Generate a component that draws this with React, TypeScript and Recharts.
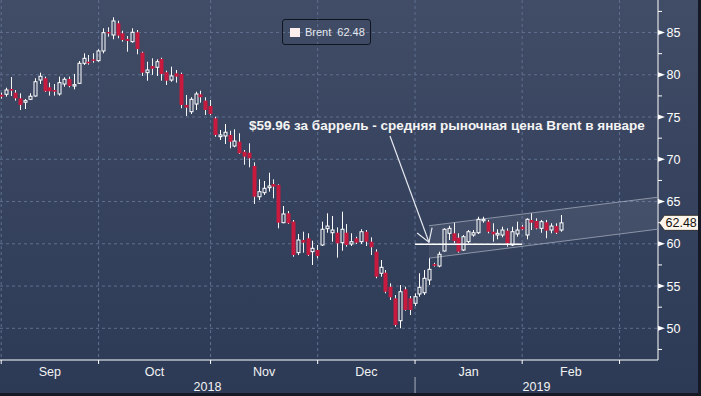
import {
  Bar,
  CartesianGrid,
  ComposedChart,
  Legend,
  ReferenceArea,
  ReferenceDot,
  ReferenceLine,
  XAxis,
  YAxis,
} from "recharts";

// daily Brent candles, Sep 2018 - Feb 2019
const opens = [
  77.64, 77.69, 78.32, 77.88, 77.22, 76.75, 77.1, 77.49, 79.38, 79.59, 78.52, 78.2, 77.73, 78.91, 79.5, 78.67, 78.99, 81.36, 81.55, 81.83,
  81.67, 82.82, 85.07, 84.71, 86.1, 84.91, 84.24, 83.92, 85.03, 82.62, 80.25, 81.04, 80.89, 81.87, 80.3, 79.38, 80.18, 80.09, 76.43, 75.63,
  76.54, 77.69, 76.94, 76.31, 74.85, 72.68, 72.76, 72.88, 71.57, 72.08, 70.9, 70.78, 69.21, 65.57, 66.05, 66.64, 67.08, 66.96, 62.5, 63.61,
  62.62, 58.95, 60.45, 60.65, 59.07, 59.27, 59.86, 61.79, 61.31, 61.31, 60.13, 61.31, 59.98, 60.65, 60.25, 61.43, 60.25, 59.07, 56.51, 56.58,
  54.92, 53.55, 50.9, 54.62, 53.55, 52.96, 54.06, 54.21, 55.72, 57.6, 57.37, 59.15, 61.24, 61.24, 60.72, 59.27, 60.25, 61.04, 61.31, 62.73,
  62.62, 61.43, 61.04, 61.04, 61.55, 59.86, 61.16, 62.02, 61.04, 62.82, 62.7, 61.83, 62.54, 61.63, 62.1, 61.63,
];
const highs = [
  77.88, 78.47, 79.74, 78.2, 77.81, 77.14, 77.81, 79.59, 80.25, 79.78, 79.07, 78.91, 79.78, 79.7, 79.78, 80.1, 81.63, 82.54, 82.34, 82.54,
  83.02, 85.5, 85.62, 86.8, 86.4, 85.22, 84.59, 85.5, 85.3, 82.73, 81.55, 81.95, 81.83, 82.02, 80.49, 80.96, 80.57, 80.25, 77.61, 77.34,
  78.0, 78.12, 77.34, 77.02, 75.04, 73.47, 74.18, 73.38, 73.55, 73.08, 71.1, 71.89, 69.64, 67.63, 67.43, 68.41, 67.63, 67.04, 64.47, 63.88,
  62.82, 61.16, 61.43, 61.24, 60.37, 59.86, 62.62, 63.61, 63.29, 61.95, 63.8, 62.34, 61.24, 60.84, 61.72, 61.63, 60.77, 59.35, 58.08, 56.9,
  55.33, 53.94, 55.12, 54.92, 53.82, 54.14, 56.51, 56.9, 58.28, 57.75, 59.07, 61.83, 62.14, 62.5, 61.24, 61.04, 61.63, 61.63, 63.2, 63.2,
  62.82, 62.43, 61.72, 62.02, 61.83, 62.02, 62.62, 62.23, 63.02, 63.61, 63.02, 62.82, 62.82, 62.43, 62.43, 63.41,
];
const lows = [
  77.17, 77.41, 77.49, 76.94, 75.83, 75.95, 77.02, 77.41, 78.91, 77.96, 77.53, 77.53, 77.53, 78.59, 78.52, 78.28, 78.91, 81.16, 81.2, 81.43,
  81.55, 82.54, 84.51, 84.2, 84.32, 83.92, 82.73, 83.8, 82.43, 79.86, 79.3, 79.98, 79.86, 79.3, 78.79, 79.18, 79.07, 76.04, 75.12, 75.36,
  75.83, 76.7, 75.24, 75.24, 72.67, 72.28, 71.81, 71.3, 71.42, 70.63, 69.35, 69.05, 64.71, 65.18, 65.78, 66.17, 65.38, 61.83, 62.43, 62.34,
  58.47, 58.67, 58.95, 58.56, 57.49, 58.28, 59.74, 61.31, 60.25, 58.36, 59.18, 59.66, 59.74, 59.98, 59.98, 59.74, 58.67, 55.92, 56.11, 54.14,
  53.35, 50.19, 50.0, 52.08, 51.57, 52.64, 53.74, 53.94, 55.12, 57.3, 57.22, 59.07, 60.45, 60.06, 58.95, 59.15, 60.06, 60.84, 61.16, 62.5,
  61.24, 60.25, 60.53, 60.77, 59.66, 59.74, 60.84, 61.63, 60.53, 61.63, 61.72, 61.31, 60.65, 61.24, 61.16, 61.43,
];
const closes = [
  77.41, 78.2, 78.12, 77.22, 76.43, 76.94, 77.46, 79.18, 79.82, 78.05, 78.05, 78.0, 79.07, 79.47, 78.67, 78.83, 81.36, 81.95, 81.36, 81.67,
  82.82, 84.98, 84.91, 86.37, 84.63, 84.12, 84.0, 85.03, 83.05, 80.25, 80.57, 80.72, 81.55, 80.09, 79.3, 79.86, 79.78, 76.43, 76.11, 77.1,
  77.73, 77.34, 75.83, 75.36, 72.88, 72.88, 73.2, 72.08, 72.16, 70.71, 70.31, 70.12, 65.57, 66.17, 66.57, 66.84, 66.76, 62.5, 63.53, 62.43,
  58.67, 60.45, 60.13, 58.67, 59.47, 58.56, 61.72, 62.1, 61.63, 60.06, 61.72, 59.86, 60.25, 60.13, 61.43, 60.25, 59.59, 56.11, 57.22, 54.33,
  53.67, 50.39, 54.33, 52.17, 52.17, 53.74, 54.85, 55.92, 56.98, 57.4, 58.76, 61.72, 61.83, 60.33, 59.07, 60.84, 61.43, 61.31, 62.9, 62.9,
  61.43, 61.12, 61.24, 61.63, 60.06, 61.43, 61.63, 61.72, 62.9, 62.5, 61.83, 62.62, 61.55, 62.1, 61.31, 62.48,
];

// candle index of the first session of each month (Sep ... Mar)
const monthStarts = [0, 20, 43, 65, 85, 107, 127];
const monthLabels = ["Sep", "Oct", "Nov", "Dec", "Jan", "Feb"];
const yearLabels = ["2018", "2019"];
const yearStart = 85;

const priceTicks = [50, 55, 60, 65, 70, 75, 80, 85];
const minorTicks = [47.5, 52.5, 57.5, 62.5, 67.5, 72.5, 77.5, 82.5, 87.5];

const X_DOMAIN: [number, number] = [-0.25, 134.9];
const Y_DOMAIN: [number, number] = [46.25, 88.85];

const januaryAverage = 59.96;
const januaryRange = [85, 107];
const lastPrice = closes[closes.length - 1];

// trend channel drawn on the chart
const channelX = [87.86, 134.7];
const channelUpper = [62.14, 65.5];
const channelLower = [58.3, 61.72];

// annotation arrow, from the text down to the average line
const arrowX = [79.85, 87.86];
const arrowY = [72.76, 60.18];
const noteAt = { x: 50.89, y: 73.47 };
const noteText = "$59.96 за баррель - средняя рыночная цена Brent в январе";

const candles = opens.map((open, i) => ({
  i,
  open,
  high: highs[i],
  low: lows[i],
  close: closes[i],
}));

const monthCenters = monthLabels.map((_, k) => (monthStarts[k] + monthStarts[k + 1]) / 2);
const yearCenters = [(X_DOMAIN[0] + yearStart) / 2, (yearStart + X_DOMAIN[1]) / 2];
const xTicks = [...monthStarts, ...monthCenters, ...yearCenters].sort((a, b) => a - b);
const yTicks = [...priceTicks, ...minorTicks].sort((a, b) => a - b);

const FONT = "'Liberation Sans', Arial, sans-serif";
const DOWN = "#c8193f";
const GRID = "#5e7090";

function Candle(props: any) {
  const { x, y, width, height, payload } = props;
  if (!payload) return null;
  const cx = Math.round(x + width / 2) + 0.5;
  const top = Math.min(y, y + height);
  const h = Math.abs(height);
  const range = payload.high - payload.low || 1;
  const toY = (v: number) => top + ((payload.high - v) / range) * h;
  const yo = toY(payload.open);
  const yc = toY(payload.close);
  const bodyTop = Math.min(yo, yc);
  const bodyBottom = Math.max(yo, yc);
  const yHigh = toY(payload.high);
  const yLow = toY(payload.low);

  if (payload.close >= payload.open) {
    return (
      <g>
        <line x1={cx} x2={cx} y1={yHigh} y2={bodyTop} stroke="#fff" strokeWidth={1} />
        <line x1={cx} x2={cx} y1={bodyBottom} y2={yLow} stroke="#fff" strokeWidth={1} />
        <rect
          x={cx - 1.5}
          y={bodyTop}
          width={3}
          height={Math.max(bodyBottom - bodyTop, 1)}
          fill="none"
          stroke="#fff"
          strokeWidth={1}
        />
      </g>
    );
  }
  return (
    <g>
      <line x1={cx} x2={cx} y1={yHigh} y2={yLow} stroke="#f2f2f2" strokeWidth={1} />
      <rect x={cx - 2} y={bodyTop} width={4} height={Math.max(bodyBottom - bodyTop, 1.5)} fill={DOWN} />
    </g>
  );
}

function PriceTick({ x, y, payload }: any) {
  const v = payload.value;
  if (v % 5 !== 0) {
    return <line x1={x} x2={x + 4} y1={y} y2={y} stroke="#fff" strokeWidth={1} />;
  }
  return (
    <g>
      <polygon points={`${x},${y - 2.5} ${x + 7},${y} ${x},${y + 2.5}`} fill="#fff" />
      <text x={x + 8.5} y={y + 4.5} fill="#fff" fontSize={12.5} fontFamily={FONT}>
        {v}
      </text>
    </g>
  );
}

function TimeTick({ x, y, payload }: any) {
  const v = payload.value;
  const m = monthCenters.indexOf(v);
  if (m >= 0) {
    return (
      <text x={x} y={y + 15.5} textAnchor="middle" fill="#f2f2f2" fontSize={12.5} fontFamily={FONT}>
        {monthLabels[m]}
      </text>
    );
  }
  const yr = yearCenters.indexOf(v);
  if (yr >= 0) {
    return (
      <text x={x} y={y + 30.5} textAnchor="middle" fill="#f2f2f2" fontSize={12.5} fontFamily={FONT}>
        {yearLabels[yr]}
      </text>
    );
  }
  return (
    <g>
      <line x1={x} x2={x} y1={y} y2={y + 4} stroke="#fff" strokeWidth={1} />
      {v === yearStart && <line x1={x} x2={x} y1={y + 17} y2={y + 33} stroke="#a9b0bd" strokeWidth={1} />}
    </g>
  );
}

function ChannelShape({ x, y, width, height }: any) {
  const top = channelUpper[1];
  const k = height / (top - channelLower[0]);
  const py = (v: number) => y + (top - v) * k;
  const pts = [
    [x, py(channelLower[0])],
    [x, py(channelUpper[0])],
    [x + width, py(channelUpper[1])],
    [x + width, py(channelLower[1])],
  ];
  const edge = "rgba(205,212,224,0.55)";
  return (
    <g>
      <polygon points={pts.map((p) => p.join(",")).join(" ")} fill="rgba(255,255,255,0.07)" stroke="none" />
      <line x1={pts[1][0]} y1={pts[1][1]} x2={pts[2][0]} y2={pts[2][1]} stroke={edge} strokeWidth={1} />
      <line x1={pts[0][0]} y1={pts[0][1]} x2={pts[3][0]} y2={pts[3][1]} stroke={edge} strokeWidth={1} />
    </g>
  );
}

function ArrowShape({ x1, y1, x2, y2 }: any) {
  const ang = Math.atan2(y2 - y1, x2 - x1);
  const len = 15;
  const spread = 0.56;
  const b1 = [x2 - len * Math.cos(ang - spread), y2 - len * Math.sin(ang - spread)];
  const b2 = [x2 - len * Math.cos(ang + spread), y2 - len * Math.sin(ang + spread)];
  return (
    <g stroke="#e4e7ee" strokeWidth={1.2} fill="none">
      <line x1={x1} y1={y1} x2={x2} y2={y2} />
      <polyline points={`${b1[0]},${b1[1]} ${x2},${y2} ${b2[0]},${b2[1]}`} />
    </g>
  );
}

function NoteShape({ cx, cy }: any) {
  return (
    <text x={cx} y={cy} fill="#f4f4f4" fontSize={13.5} fontWeight="bold" fontFamily={FONT}>
      {noteText}
    </text>
  );
}

function PriceFlag({ cx, cy }: any) {
  return (
    <g>
      <polygon
        points={`${cx + 1},${cy} ${cx + 6.5},${cy - 7.5} ${cx + 41},${cy - 7.5} ${cx + 41},${cy + 7.5} ${cx + 6.5},${cy + 7.5}`}
        fill="#fff5ea"
        stroke="#222"
        strokeWidth={0.8}
      />
      <text x={cx + 7.5} y={cy + 4.5} fill="#111" fontSize={12.5} fontFamily={FONT}>
        {lastPrice.toFixed(2)}
      </text>
    </g>
  );
}

function LegendBox({ payload }: any) {
  const name = payload?.[0]?.value ?? "Brent";
  return (
    <div
      style={{
        boxSizing: "border-box",
        width: 89,
        height: 26,
        border: "1px solid #10151f",
        borderRadius: 3,
        display: "flex",
        alignItems: "center",
        paddingLeft: 7,
        fontFamily: FONT,
        fontSize: 11,
        color: "#e6e8ee",
      }}
    >
      <span style={{ width: 10, height: 9, background: "#fdeeee", marginRight: 5 }} />
      <span>{name}</span>
      <span style={{ marginLeft: 6 }}>{lastPrice.toFixed(2)}</span>
    </div>
  );
}

export default function App() {
  return (
    <div style={{ position: "absolute", left: 0, top: 0, width: 701, height: 396, background: "#141923" }}>
      <div
        style={{
          position: "relative",
          width: 698,
          height: 393,
          background: "linear-gradient(180deg, #414c66 0%, #2c3a56 100%)",
        }}
      >
        <ComposedChart width={698} height={393} data={candles} margin={{ top: 0, right: 0, bottom: 0, left: 0 }}>
          <CartesianGrid
            stroke={GRID}
            strokeDasharray="3 3"
            horizontalValues={priceTicks}
            verticalValues={monthStarts}
          />
          <XAxis
            dataKey="i"
            type="number"
            domain={X_DOMAIN}
            allowDataOverflow
            ticks={xTicks}
            interval={0}
            height={33}
            tickSize={0}
            tickMargin={0}
            tickLine={false}
            axisLine={{ stroke: "#fff" }}
            tick={<TimeTick />}
          />
          <YAxis
            orientation="right"
            type="number"
            domain={Y_DOMAIN}
            allowDataOverflow
            ticks={yTicks}
            interval={0}
            width={40}
            tickSize={0}
            tickMargin={0}
            tickLine={false}
            axisLine={{ stroke: "#fff" }}
            tick={<PriceTick />}
          />
          <ReferenceArea
            x1={channelX[0]}
            x2={channelX[1]}
            y1={channelLower[0]}
            y2={channelUpper[1]}
            ifOverflow="visible"
            shape={(p: any) => <ChannelShape {...p} />}
          />
          <Bar
            name="Brent"
            dataKey={(d: any) => [d.low, d.high]}
            barSize={4}
            shape={(p: any) => <Candle {...p} />}
            isAnimationActive={false}
          />
          <ReferenceLine
            segment={[
              { x: januaryRange[0], y: januaryAverage },
              { x: januaryRange[1], y: januaryAverage },
            ]}
            stroke="#fff"
            strokeWidth={1.5}
          />
          <ReferenceLine
            segment={[
              { x: arrowX[0], y: arrowY[0] },
              { x: arrowX[1], y: arrowY[1] },
            ]}
            ifOverflow="visible"
            shape={(p: any) => <ArrowShape {...p} />}
          />
          <ReferenceDot x={noteAt.x} y={noteAt.y} r={0} ifOverflow="visible" shape={(p: any) => <NoteShape {...p} />} />
          <ReferenceDot x={X_DOMAIN[1]} y={lastPrice} r={0} ifOverflow="visible" shape={(p: any) => <PriceFlag {...p} />} />
          <Legend
            layout="horizontal"
            verticalAlign="middle"
            align="center"
            wrapperStyle={{ left: 282, top: 19, width: 89, height: 26 }}
            content={<LegendBox />}
          />
        </ComposedChart>
      </div>
    </div>
  );
}
